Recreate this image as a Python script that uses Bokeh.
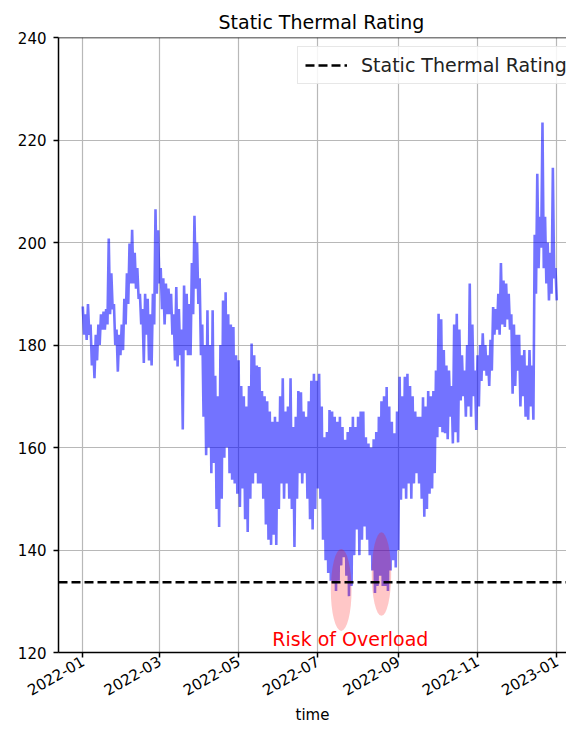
import math
import pandas as pd
from bokeh.plotting import figure
from bokeh.models import (Range1d, FixedTicker, DatetimeTickFormatter, Legend,
                          LegendItem, Span)
from bokeh.core.properties import value
from bokeh.embed import file_html
from bokeh.resources import INLINE

# ---------------- data ----------------
START = "2022-01-01"
# day offset from START, and the low / high of the line around that day
day = [0, 2, 4, 6, 8, 10, 12, 14, 16, 18, 20, 22, 24, 26, 28, 30,
       32, 34, 36, 38, 40, 42, 44, 46, 48, 50, 52, 54, 56, 58,
       60, 62, 64, 66, 68, 70, 72, 74, 76, 78, 80, 82, 84, 86, 88,
       90, 92, 94, 96, 98, 100, 102, 104, 106, 108, 110, 112, 114, 116, 118,
       120, 122, 124, 126, 128, 130, 132, 134, 136, 138, 140, 142, 144, 146, 148, 150,
       152, 154, 156, 158, 160, 162, 164, 166, 168, 170, 172, 174, 176, 178, 180,
       182, 184, 186, 188, 190, 192, 194, 196, 198, 200, 202, 204, 206, 208, 210, 212,
       214, 216, 218, 220, 222, 224, 226, 228, 230, 232, 234, 236, 238, 240, 242,
       244, 246, 248, 250, 252, 254, 256, 258, 260, 262, 264, 266, 268, 270, 272,
       274, 276, 278, 280, 282, 284, 286, 288, 290, 292, 294, 296, 298, 300, 302,
       304, 306, 308, 310, 312, 314, 316, 318, 320, 322, 324, 326, 328, 330, 332,
       334, 336, 338, 340, 342, 344, 346, 348, 350, 352, 354, 356, 358, 360, 362, 364]
low = [182, 181, 182, 176, 173.5, 177, 180, 183, 183, 184, 186, 187, 180, 174.8, 178, 179,
       184, 188, 192, 192, 191, 189, 184, 176.5, 182, 177, 176, 184, 190, 192,
       187, 184, 186, 186, 182, 177, 175.8, 178, 163.5, 179, 178, 178, 186, 191, 188,
       178, 166, 158.5, 160, 155, 157, 148, 144.5, 150, 158, 160, 155, 153.7, 153, 151,
       148.4, 152, 146, 143.5, 150, 153, 155, 153, 153, 150, 145, 142, 141, 143, 141, 148,
       153, 150, 153, 150, 148, 140.6, 150, 155, 153, 155, 150, 146, 144, 148, 152,
       150, 142, 138, 135.5, 134, 133.5, 132, 134, 137, 138.6, 135, 131, 133, 139, 144, 139,
       142, 144.6, 142, 139, 136, 131.6, 133, 135, 133, 133, 132, 136, 138, 136.6, 140,
       149.8, 152, 150, 153, 150, 153, 155, 153, 150, 146.5, 148, 151, 152, 155, 162,
       164, 163, 162.8, 161.6, 166, 160.8, 163, 161, 169.2, 170, 166, 168, 166, 170, 163.4,
       168, 173, 175, 174, 172, 175, 182, 183, 182, 184, 183.5, 185, 183, 170.5, 172,
       175, 168, 170, 166, 165.4, 168, 165.4, 190, 195, 199, 195, 192, 188.7, 190, 193, 188.7]
high = [187.5, 186, 188, 184, 180, 182, 184, 186, 186.5, 187, 200.8, 194, 188, 183, 182, 184,
        189, 194, 199.8, 202.5, 198, 195, 190, 187, 190, 189, 186, 190, 206.5, 202.4,
        195, 193, 192, 191, 190, 186, 191.3, 187, 183, 191.6, 190, 188, 196, 205.2, 200,
        193, 184, 180, 186.8, 180, 186.8, 174, 170, 180, 188.7, 190.3, 186, 184, 183.5, 178,
        177, 172, 170, 168, 172, 180.3, 178, 176, 175.7, 171, 170, 169, 167, 165, 166, 165,
        170, 173.5, 167, 168, 173.5, 164, 166, 171, 170.8, 167, 166, 169, 173, 174.4, 173,
        174.4, 168, 162, 163, 167.3, 167, 166, 165, 166, 164, 161.5, 163, 164, 166, 164, 166,
        167, 167, 162, 160.8, 160, 161.6, 163, 166, 169, 170, 171.8, 168, 165, 162.8, 167,
        173.8, 170, 173.8, 174.4, 172, 170, 167, 166, 166, 169.8, 168, 171, 170, 171, 175,
        186.1, 185, 179, 176, 175, 172, 184, 186.1, 183, 178, 175, 180, 192, 184, 175,
        178, 180, 182.3, 180, 178, 181, 187.4, 187, 190, 196, 192.6, 192, 190, 186, 184,
        182, 182, 178, 179, 176, 179, 176, 201.5, 213.4, 205, 223.4, 205, 200, 198, 214.6, 195]

rating = 133.7                      # static thermal rating level
rating_label = "Static Thermal Rating"
y_ticks = [120, 140, 160, 180, 200, 220, 240]
x_tick_labels = ["2022-01", "2022-03", "2022-05", "2022-07", "2022-09", "2022-11", "2023-01"]

overload_dates = ["2022-07-19", "2022-08-19"]
overload_values = [132.2, 135.3]
overload_text = "Risk of Overload"
overload_text_date = "2022-07-26"
overload_text_value = 122.7

# ---------------- build ----------------
start = pd.Timestamp(START)
t, v = [], []
for d, lo, hi in zip(day, low, high):
    t.append(start + pd.Timedelta(days=d))
    v.append(hi)
    t.append(start + pd.Timedelta(days=d + 1))
    v.append(lo)

def ms(ts):
    return pd.Timestamp(ts).value / 1e6

x0 = ms(start - pd.Timedelta(days=18.7))
x1 = ms(start + pd.Timedelta(days=372.5))
DAY_MS = 86400000.0

FONT = "DejaVu Sans"

p = figure(width=566, height=727, x_axis_type="datetime",
           x_range=Range1d(x0, x1), y_range=Range1d(120, 240),
           output_backend="svg", toolbar_location=None,
           min_border_left=58, min_border_right=0,
           min_border_top=37, min_border_bottom=0,
           title="Static Thermal Rating")
p.background_fill_color = "white"
p.border_fill_color = "white"
p.outline_line_color = None

p.title.align = "left"
p.title.offset = 160
p.title.text_font = FONT
p.title.text_font_size = "19px"
p.title.text_font_style = "normal"
p.title.text_color = "black"

tick_ms = [ms(s + "-01") for s in x_tick_labels]
p.xaxis.ticker = FixedTicker(ticks=tick_ms)
p.xgrid.ticker = FixedTicker(ticks=tick_ms)
fmt = "%Y-%m"
p.xaxis.formatter = DatetimeTickFormatter(milliseconds=fmt, seconds=fmt, minsec=fmt,
                                          minutes=fmt, hourmin=fmt, hours=fmt,
                                          days=fmt, months=fmt, years=fmt)
p.xaxis.major_label_orientation = math.pi / 6
p.yaxis.ticker = FixedTicker(ticks=y_ticks)
p.ygrid.ticker = FixedTicker(ticks=y_ticks)

p.xaxis.axis_label = "time"
p.xaxis.axis_label_text_font = FONT
p.xaxis.axis_label_text_font_size = "15px"
p.xaxis.axis_label_text_font_style = "normal"
p.xaxis.axis_label_text_color = "black"
p.xaxis.axis_label_standoff = 2

for ax in (p.xaxis, p.yaxis):
    ax.major_label_text_font = FONT
    ax.major_label_text_font_size = "15px"
    ax.major_label_text_color = "black"
    ax.axis_line_color = "black"
    ax.axis_line_width = 1.5
    ax.major_tick_line_color = "black"
    ax.major_tick_line_width = 1.5
    ax.major_tick_out = 5
    ax.major_tick_in = 0
    ax.minor_tick_line_color = None
p.yaxis.major_label_standoff = 7
p.xaxis.major_label_standoff = 2

p.grid.grid_line_color = "#b8b8b8"
p.grid.grid_line_width = 1.2

p.add_layout(Span(location=240, dimension="width", line_color="black", line_width=1.5))

p.line(t, v, line_color="blue", line_alpha=0.55, line_width=2.6)

p.ellipse(x=pd.to_datetime(overload_dates), y=overload_values,
          width=[16 * DAY_MS, 15 * DAY_MS], height=[16, 16.3],
          fill_color="red", fill_alpha=0.22, line_color=None)

rl = p.line([x0, x1], [rating, rating], line_color="black", line_width=2.5,
            line_dash="9 4")

p.text(x=[pd.Timestamp(overload_text_date)], y=[overload_text_value], text=[overload_text],
       text_color="red", text_font=value(FONT), text_font_size="19px",
       text_align="center", text_baseline="middle")

legend = Legend(items=[LegendItem(label=rating_label, renderers=[rl])],
                location=(239, 568))
legend.label_text_font = FONT
legend.label_text_font_size = "19px"
legend.label_text_color = "#222222"
legend.glyph_width = 42
legend.glyph_height = 20
legend.label_height = 20
legend.label_standoff = 14
legend.padding = 7
legend.margin = 0
legend.spacing = 0
legend.border_line_color = "#d0d0d0"
legend.border_line_width = 1.2
legend.background_fill_alpha = 0.85
p.add_layout(legend)

open("out.html", "w").write(file_html(p, INLINE))
